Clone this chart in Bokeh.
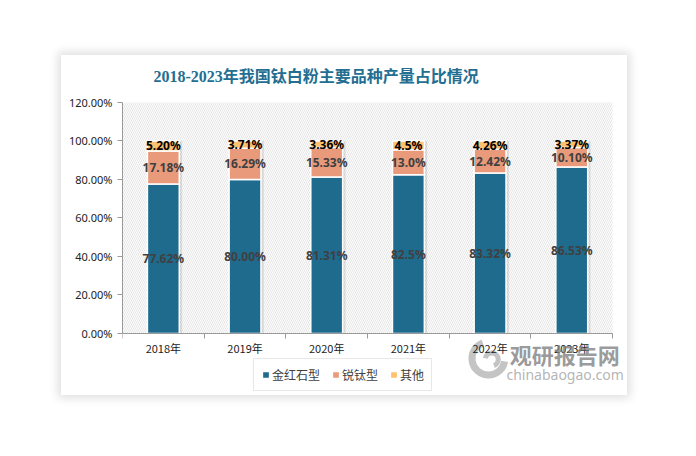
from bokeh.plotting import figure
from bokeh.models import (Range1d, FixedTicker, PrintfTickFormatter, Legend, LegendItem,
                          ColumnDataSource, Label)
from bokeh.transform import dodge
from bokeh.core.properties import value
from bokeh.embed import file_html
from bokeh.resources import INLINE
import math

# ---------------- data ----------------
years = ["2018年", "2019年", "2020年", "2021年", "2022年", "2023年"]
series_names = ["金红石型", "锐钛型", "其他"]
rutile = [77.62, 80.00, 81.31, 82.5, 83.32, 86.53]
anatase = [17.18, 16.29, 15.33, 13.0, 12.42, 10.10]
other = [5.20, 3.71, 3.36, 4.5, 4.26, 3.37]
rutile_labels = ["77.62%", "80.00%", "81.31%", "82.5%", "83.32%", "86.53%"]
anatase_labels = ["17.18%", "16.29%", "15.33%", "13.0%", "12.42%", "10.10%"]
other_labels = ["5.20%", "3.71%", "3.36%", "4.5%", "4.26%", "3.37%"]
y_ticks = [0, 20, 40, 60, 80, 100, 120]
title_text = "2018-2023年我国钛白粉主要品种产量占比情况"

colors = ["#1F6B8E", "#E89A7B", "#FDC170"]
CJK = "Noto Sans CJK SC"

n = len(years)
xs = [i + 0.5 for i in range(n)]
totals = [r + a + o for r, a, o in zip(rutile, anatase, other)]
src = ColumnDataSource(dict(x=xs, rutile=rutile, anatase=anatase, other=other, total=totals))

# frame covers the whole card so title, legend & watermark live inside it
p = figure(width=566, height=340, x_range=Range1d(0, n + 0.17), y_range=Range1d(-31.2, 143.9),
           output_backend="svg", toolbar_location=None,
           min_border_left=61, min_border_right=1, min_border_top=1, min_border_bottom=2)
p.margin = (55, 0, 0, 61)
p.styles = {"box-shadow": "0px 0px 9px 3px rgba(0,0,0,0.13)"}
p.outline_line_color = None
p.border_fill_color = "white"
p.background_fill_color = "white"
p.xgrid.visible = False
p.ygrid.visible = False

# title
p.add_layout(Label(x=0.38, y=133.5, text=title_text, text_font="Liberation Serif, " + CJK,
                   text_font_size="16px", text_font_style="bold", text_color="#236E91",
                   text_baseline="middle", text_align="left"))

# hatched plot-area background
p.quad(left=0, right=n, bottom=0, top=y_ticks[-1], fill_color="white", line_color=None,
       hatch_pattern="\\", hatch_color="#d4d4d4", hatch_scale=4, hatch_weight=0.6)

# subtle bar shadow
p.vbar(x=dodge("x", 0.035), top="total", width=0.39, source=src,
       fill_color="black", fill_alpha=0.10, line_color=None)

rs = p.vbar_stack(["rutile", "anatase", "other"], x="x", width=0.39, color=colors,
                  line_color="white", line_width=1.5, source=src)

r_mid = [r / 2 for r in rutile]
a_mid = [r + a / 2 for r, a in zip(rutile, anatase)]
o_mid = [r + a + o / 2 for r, a, o in zip(rutile, anatase, other)]
for ys, labs, col in [(r_mid, rutile_labels, "#404040"), (a_mid, anatase_labels, "#404040"),
                      (o_mid, other_labels, "#000000")]:
    p.text(x=xs, y=ys, text=labs, text_align="center", text_baseline="middle",
           text_font=value("Noto Sans"), text_font_style="bold", text_font_size="12px",
           text_color=col)

# axes
p.xaxis.fixed_location = 0
p.xaxis.bounds = (0, n)
p.xaxis.ticker = FixedTicker(ticks=xs, minor_ticks=list(range(n + 1)))
p.xaxis.major_label_overrides = {x: y for x, y in zip(xs, years)}
p.xaxis.major_tick_line_color = None
p.xaxis.major_tick_out = 0
p.xaxis.major_tick_in = 0
p.xaxis.minor_tick_line_color = "#9a9a9a"
p.xaxis.minor_tick_out = 5
p.xaxis.minor_tick_in = 0
p.xaxis.axis_line_color = "#9a9a9a"
p.xaxis.major_label_standoff = 2
p.xaxis.major_label_text_font = CJK
p.xaxis.major_label_text_font_size = "11px"
p.xaxis.major_label_text_color = "#222222"

p.yaxis.bounds = (0, y_ticks[-1])
p.yaxis.ticker = FixedTicker(ticks=y_ticks)
p.yaxis.formatter = PrintfTickFormatter(format="%.2f%%")
p.yaxis.minor_tick_line_color = None
p.yaxis.major_tick_out = 5
p.yaxis.major_tick_in = 0
p.yaxis.major_tick_line_color = "#9a9a9a"
p.yaxis.axis_line_color = "#9a9a9a"
p.yaxis.major_label_standoff = 5
p.yaxis.major_label_text_font = "Noto Sans"
p.yaxis.major_label_text_font_size = "11px"
p.yaxis.major_label_text_color = "#222222"

legend = Legend(items=[LegendItem(label=nm, renderers=[r]) for nm, r in zip(series_names, rs)],
                location=(131, 2), orientation="horizontal",
                label_text_font=CJK, label_text_font_size="12px", label_text_color="#404040",
                glyph_width=9, glyph_height=9, label_height=14, label_standoff=2,
                spacing=11, padding=7, margin=0,
                border_line_color="#cfcfcf", border_line_width=1,
                background_fill_color="white", background_fill_alpha=1)
p.add_layout(legend)

# watermark (logo swirl + text)
p.annular_wedge(x=4.48, y=-13, inner_radius=13, outer_radius=20,
                inner_radius_units="screen", outer_radius_units="screen",
                start_angle=math.radians(110), end_angle=math.radians(350),
                fill_color="#8a8a8a", fill_alpha=0.5, line_color=None)
p.annular_wedge(x=4.52, y=-13.5, inner_radius=4, outer_radius=9,
                inner_radius_units="screen", outer_radius_units="screen",
                start_angle=math.radians(-70), end_angle=math.radians(170),
                fill_color="#8a8a8a", fill_alpha=0.5, line_color=None)
p.add_layout(Label(x=4.74, y=-10.5, text="观研报告网", text_font=CJK, text_font_size="22px",
                   text_font_style="bold", text_color="#7a7a7a", text_alpha=0.75,
                   text_baseline="middle"))
p.add_layout(Label(x=4.7, y=-21.5, text="chinabaogao.com", text_font="Noto Sans",
                   text_font_size="14px", text_color="#8a8a8a", text_alpha=0.65,
                   text_baseline="middle"))

open("out.html", "w").write(file_html(p, INLINE))
